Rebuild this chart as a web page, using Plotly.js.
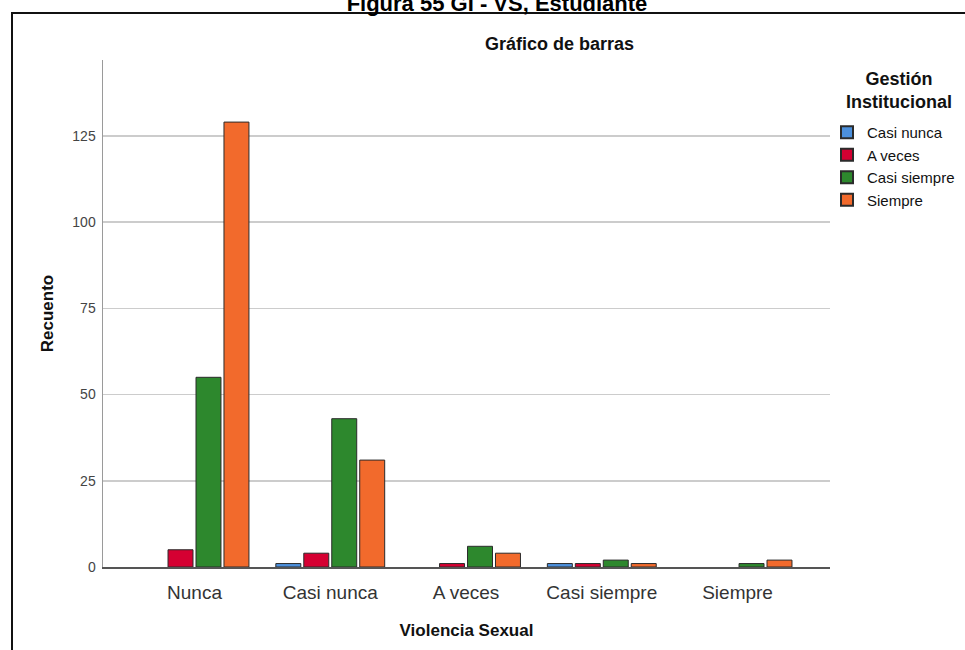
<!DOCTYPE html>
<html>
<head>
<meta charset="utf-8">
<script src="https://cdn.plot.ly/plotly-3.0.1.min.js"></script>
<style>
html, body { margin: 0; padding: 0; background: #ffffff; }
#chart { width: 965px; height: 650px; }
</style>
</head>
<body>
<div id="chart"></div>
<script>
// Categories of "Violencia Sexual" (x axis)
const categories = ["Nunca", "Casi nunca", "A veces", "Casi siempre", "Siempre"];

// Series: "Gestión Institucional" groups (counts)
const seriesNames = ["Casi nunca", "A veces", "Casi siempre", "Siempre"];
const casiNunca   = [0, 1, 0, 1, 0];
const aVeces      = [5, 4, 1, 1, 0];
const casiSiempre = [55, 43, 6, 2, 1];
const siempre     = [129, 31, 4, 1, 2];

// Y tick values
const yTicks = [0, 25, 50, 75, 100, 125];

const seriesValues = [casiNunca, aVeces, casiSiempre, siempre];
const seriesColors = ["#4C90DD", "#D50032", "#2D882D", "#F26A2C"];

const FONT = "Arial, 'Liberation Sans', sans-serif";

const traces = seriesNames.map((name, i) => ({
  type: "bar",
  name: name,
  x: categories,
  y: seriesValues[i],
  marker: {
    color: seriesColors[i],
    // no outline for empty (zero-count) bars, as in the reference
    line: { color: "#2b2b2b", width: seriesValues[i].map(v => (v === 0 ? 0 : 1)) }
  },
  hoverinfo: "x+y+name"
}));

// Plot area: x 103..830 px, y 60..567 px
const L = 103, R = 830, T = 60, B = 567;
const pw = R - L, ph = B - T;
const px = v => (v - L) / pw;
const py = v => (B - v) / ph;

const layout = {
  width: 965,
  height: 650,
  margin: { l: L, r: 965 - R, t: T, b: 650 - B, pad: 0, autoexpand: false },
  paper_bgcolor: "#ffffff",
  plot_bgcolor: "#ffffff",
  font: { family: FONT, color: "#222" },
  title: {
    text: "<b>Figura 55 GI - VS, Estudiante</b>",
    font: { family: FONT, size: 22, color: "#000" },
    x: 497 / 965, xanchor: "center",
    y: 1 - 3 / 650, yanchor: "middle", yref: "container"
  },
  barmode: "group",
  bargap: 0.176,
  bargroupgap: 0.107,
  showlegend: true,
  legend: {
    x: px(827), xanchor: "left",
    y: py(116), yanchor: "top",
    bgcolor: "rgba(0,0,0,0)",
    font: { family: FONT, size: 15, color: "#111" },
    itemsizing: "constant",
    tracegroupgap: 0,
    traceorder: "normal"
  },
  xaxis: {
    type: "category",
    range: [-0.674, 4.681],
    showgrid: false,
    zeroline: false,
    showline: true,
    linecolor: "#555",
    linewidth: 1.5,
    ticks: "",
    ticklabelstandoff: 8,
    tickfont: { family: FONT, size: 19, color: "#333" },
    title: {
      text: "<b>Violencia Sexual</b>",
      font: { family: FONT, size: 17, color: "#111" },
      standoff: 22
    },
    fixedrange: true
  },
  yaxis: {
    range: [0, 147],
    tickvals: yTicks,
    ticktext: yTicks.map(String),
    showgrid: true,
    gridcolor: "#cccccc",
    gridwidth: 1.5,
    zeroline: false,
    showline: true,
    linecolor: "#9a9a9a",
    linewidth: 1.5,
    ticks: "",
    ticklabelstandoff: 3,
    tickfont: { family: FONT, size: 14, color: "#444" },
    title: {
      text: "<b>Recuento</b>",
      font: { family: FONT, size: 17, color: "#111" },
      standoff: 14
    },
    fixedrange: true
  },
  annotations: [
    {
      text: "<b>Gráfico de barras</b>",
      xref: "paper", yref: "paper",
      x: px(559), y: py(44),
      xanchor: "center", yanchor: "middle",
      showarrow: false,
      font: { family: FONT, size: 18, color: "#111" }
    },
    {
      text: "<b>Gestión<br>Institucional</b>",
      xref: "paper", yref: "paper",
      x: px(899), y: py(91),
      xanchor: "center", yanchor: "middle",
      align: "center",
      showarrow: false,
      font: { family: FONT, size: 18, color: "#111" }
    }
  ],
  shapes: [
    {
      type: "rect",
      xref: "paper", yref: "paper",
      x0: px(12), x1: px(1000),
      y0: py(13), y1: py(700),
      line: { color: "#111", width: 2 },
      fillcolor: "rgba(0,0,0,0)",
      layer: "below"
    }
  ]
};

Plotly.newPlot("chart", traces, layout, { displayModeBar: false, staticPlot: true });
</script>
</body>
</html>
